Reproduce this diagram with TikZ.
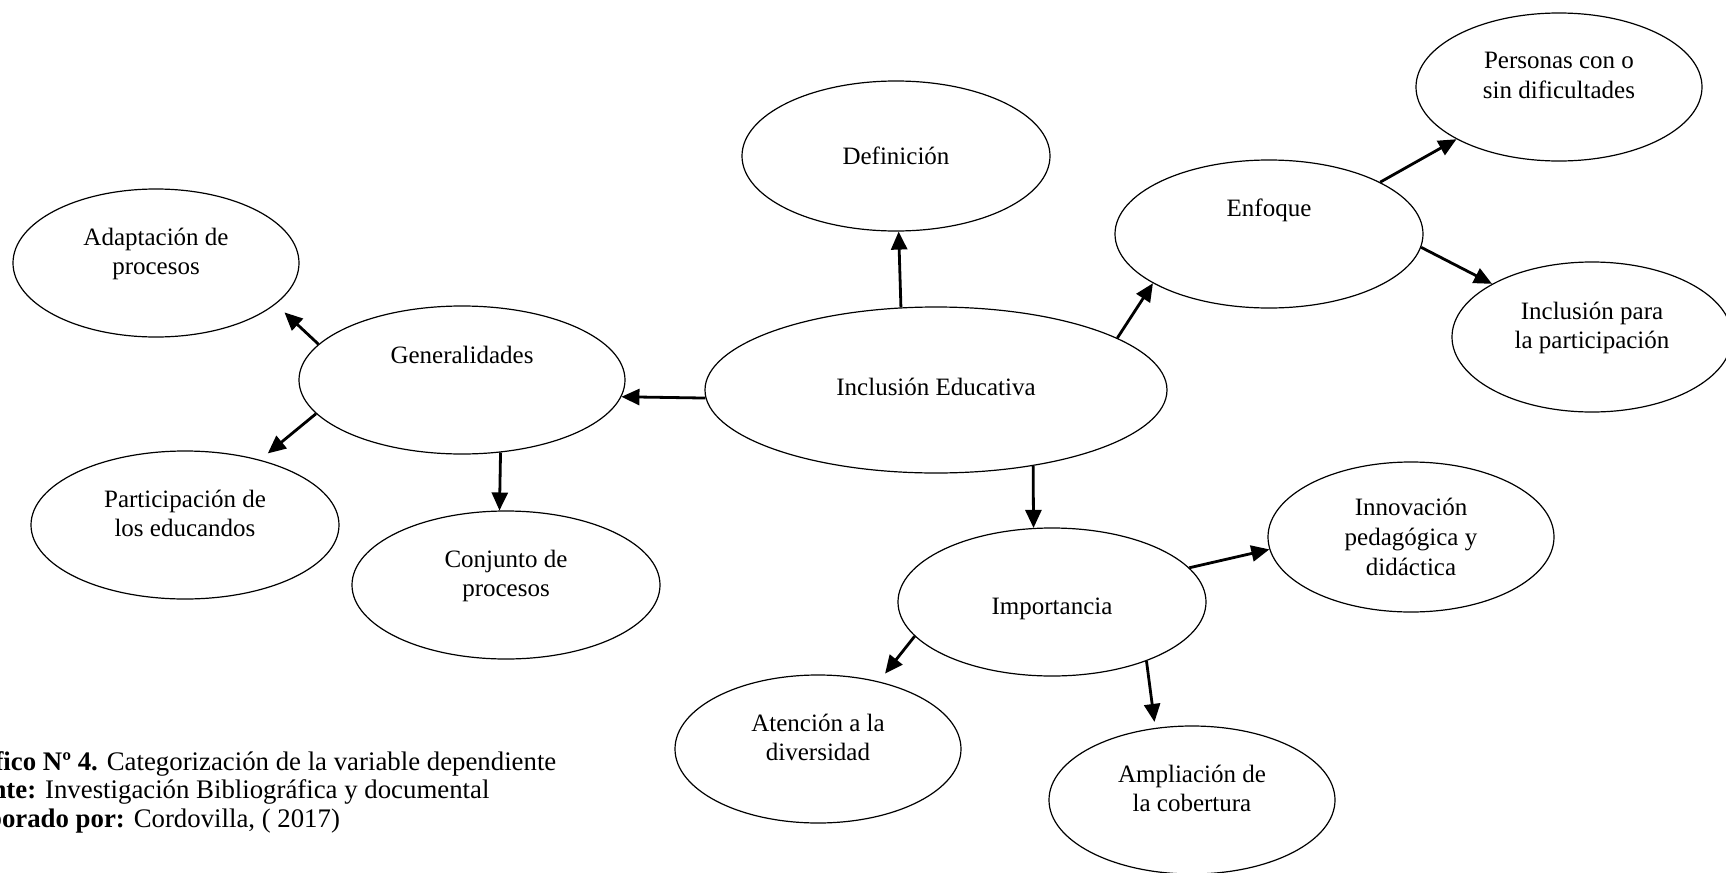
\documentclass[tikz,border=0pt]{standalone}
\usepackage{fontspec}
\setmainfont{Liberation Serif}
\usetikzlibrary{shapes.geometric,arrows.meta}
\tikzset{
  idea/.style={ellipse,draw,line width=0.6pt,inner sep=0pt,align=center,minimum width=#1,minimum height=74pt},
  idea/.default=143pt,
  lift/.style={text height=9pt,text depth=#1},
  dos/.style={text depth=11.5pt},
  flecha/.style={-{Triangle[length=9pt,width=8pt]},line width=1.4pt},
}
\begin{document}
\begin{tikzpicture}[x=0.5pt,y=-0.5pt,font=\fontsize{12.5}{14.8}\selectfont]
\useasboundingbox (0,0) rectangle (1726,873);
\clip (0,0) rectangle (1726,873);
\node[idea=231pt,minimum height=83pt,lift=3.5pt] (inc) at (936,390) {Inclusión Educativa};
\node[idea=154pt,minimum height=75pt] (def) at (896,156) {Definición};
\node[idea=154pt,lift=27pt] (enf) at (1269,234) {Enfoque};
\node[idea,dos] (per) at (1559,87) {Personas con o\\sin dificultades};
\node[idea=140pt,minimum height=75pt,dos] (ipp) at (1592,337) {Inclusión para\\la participación};
\node[idea=163pt,lift=26pt] (gen) at (462,380) {Generalidades};
\node[idea,dos] (ada) at (156,263) {Adaptación de\\procesos};
\node[idea=154pt,dos] (par) at (185,525) {Participación de\\los educandos};
\node[idea=154pt,dos] (con) at (506,585) {Conjunto de\\procesos};
\node[idea=154pt,text height=15pt,text depth=2.7pt] (imp) at (1052,602) {Importancia};
\node[idea,minimum height=75pt] (inn) at (1411,537) {Innovación\\pedagógica y\\didáctica};
\node[idea,dos] (ate) at (818,749) {Atención a la\\diversidad};
\node[idea,dos] (amp) at (1192,800) {Ampliación de\\la cobertura};
\draw[flecha] (inc.113) -- (def.-88);
\draw[flecha] (inc.16) -- (enf.203);
\draw[flecha] (enf.25) -- (per.207);
\draw[flecha] (enf.-5) -- (ipp.152);
\draw[flecha] (inc.182) -- (gen.-6);
\draw[flecha,shorten >=6pt] (gen.166) -- (ada.-19);
\draw[flecha,shorten >=5pt] (gen.193) -- (par.41);
\draw[flecha] (gen.-62) -- (con.95);
\draw[flecha] (inc.-38) -- (imp.104);
\draw[flecha] (imp.14) -- (inn.185);
\draw[flecha,shorten >=5pt] (imp.194) -- (ate.48);
\draw[flecha,shorten >=3pt] (imp.-32) -- (amp.117);
\node[anchor=north west,inner sep=0pt,align=left,font=\fontsize{13.4}{14.3}\selectfont] (cap) at (-52,751) {\textbf{Gráfico Nº 4.} Categorización de la variable dependiente\\\textbf{Fuente:} Investigación Bibliográfica y documental\\\textbf{Elaborado por:} Cordovilla, ( 2017)};
\end{tikzpicture}
\end{document}
